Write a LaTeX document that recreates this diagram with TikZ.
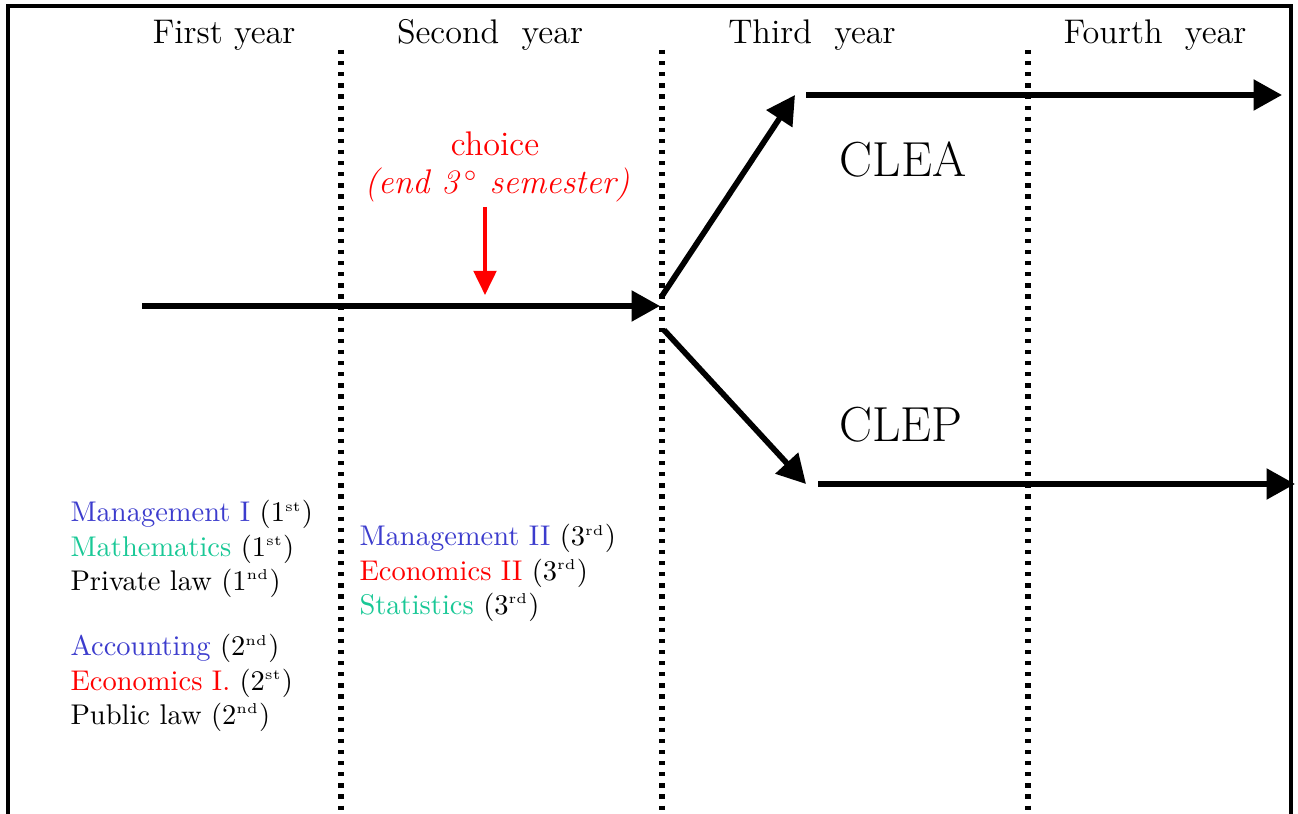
\documentclass[tikz,border=0pt]{standalone}
\usetikzlibrary{arrows.meta}
\definecolor{subjblue}{RGB}{60,60,205}
\definecolor{subjgreen}{RGB}{25,200,150}
\definecolor{choicered}{RGB}{255,0,0}
\newcommand{\supx}[1]{\textsuperscript{\tiny #1}}
\begin{document}
\begin{tikzpicture}[x=0.351pt,y=-0.351pt,
  frameline/.style={line width=1.1pt},
  divider/.style={line width=1.9pt, dash pattern=on 1.5pt off 2.4pt},
  yearlabel/.style={font=\large, anchor=center, inner sep=0pt},
  bigarrow/.style={line width=2pt, -{Triangle[length=10pt,width=10.5pt]}},
  redarrow/.style={line width=1.1pt, draw=choicered, -{Triangle[length=8.5pt,width=8pt]}},
  pathlabel/.style={font=\LARGE, inner sep=0pt},
  subjlist/.style={anchor=north west, align=left, inner sep=0pt, font=\normalsize}
]
\useasboundingbox (0,0) rectangle (1298,814);
% frame
\coordinate (ftl) at (8,6);
\coordinate (ftr) at (1291,6);
\coordinate (fbl) at (8,820);
\coordinate (fbr) at (1291,820);
\draw[frameline] (fbl) -- (ftl) -- (ftr) -- (fbr);
% dividers
\coordinate (d1t) at (341,50); \coordinate (d1b) at (341,820);
\coordinate (d2t) at (662,50); \coordinate (d2b) at (662,820);
\coordinate (d3t) at (1028,50); \coordinate (d3b) at (1028,820);
\draw[divider] (d1t) -- (d1b);
\draw[divider] (d2t) -- (d2b);
\draw[divider] (d3t) -- (d3b);
% year labels
\node[yearlabel] (y1) at (224,35) {First year};
\node[yearlabel] (y2) at (490,35) {Second\ \ year};
\node[yearlabel] (y3) at (812,35) {Third\ \ year};
\node[yearlabel] (y4) at (1155,35) {Fourth\ \ year};
% main arrow
\coordinate (mstart) at (142,306);
\coordinate (mend) at (660,306);
\draw[bigarrow] (mstart) -- (mend);
% choice
\node[text=choicered, font=\large, inner sep=0pt] (choice) at (495,144) {choice};
\node[text=choicered, font=\large\itshape, inner sep=0pt] (choicesub) at (497,185) {(end 3\,$^\circ$ semester)};
\coordinate (rstart) at (485,207);
\coordinate (rend) at (485,295);
\draw[redarrow] (rstart) -- (rend);
% branches
\coordinate (ustart) at (662,296);
\coordinate (uend) at (795,95);
\draw[bigarrow] (ustart) -- (uend);
\coordinate (uhs) at (806,95);
\coordinate (uhe) at (1282,95);
\draw[bigarrow] (uhs) -- (uhe);
\coordinate (lstart) at (664,330);
\coordinate (lend) at (806,484);
\draw[bigarrow] (lstart) -- (lend);
\coordinate (lhs) at (818,484);
\coordinate (lhe) at (1295,484);
\draw[bigarrow] (lhs) -- (lhe);
\node[pathlabel] (clea) at (903,160) {CLEA};
\node[pathlabel] (clep) at (901,425) {CLEP};
% subject lists
\node[subjlist] (first) at (70,500) {%
\textcolor{subjblue}{Management I} (1\supx{st})\\
\textcolor{subjgreen}{Mathematics} (1\supx{st})\\
Private law (1\supx{nd})\\[11pt]
\textcolor{subjblue}{Accounting} (2\supx{nd})\\
\textcolor{choicered}{Economics I.} (2\supx{st})\\
Public law (2\supx{nd})};
\node[subjlist] (second) at (359,524) {%
\textcolor{subjblue}{Management II} (3\supx{rd})\\
\textcolor{choicered}{Economics II} (3\supx{rd})\\
\textcolor{subjgreen}{Statistics} (3\supx{rd})};
\end{tikzpicture}
\end{document}
